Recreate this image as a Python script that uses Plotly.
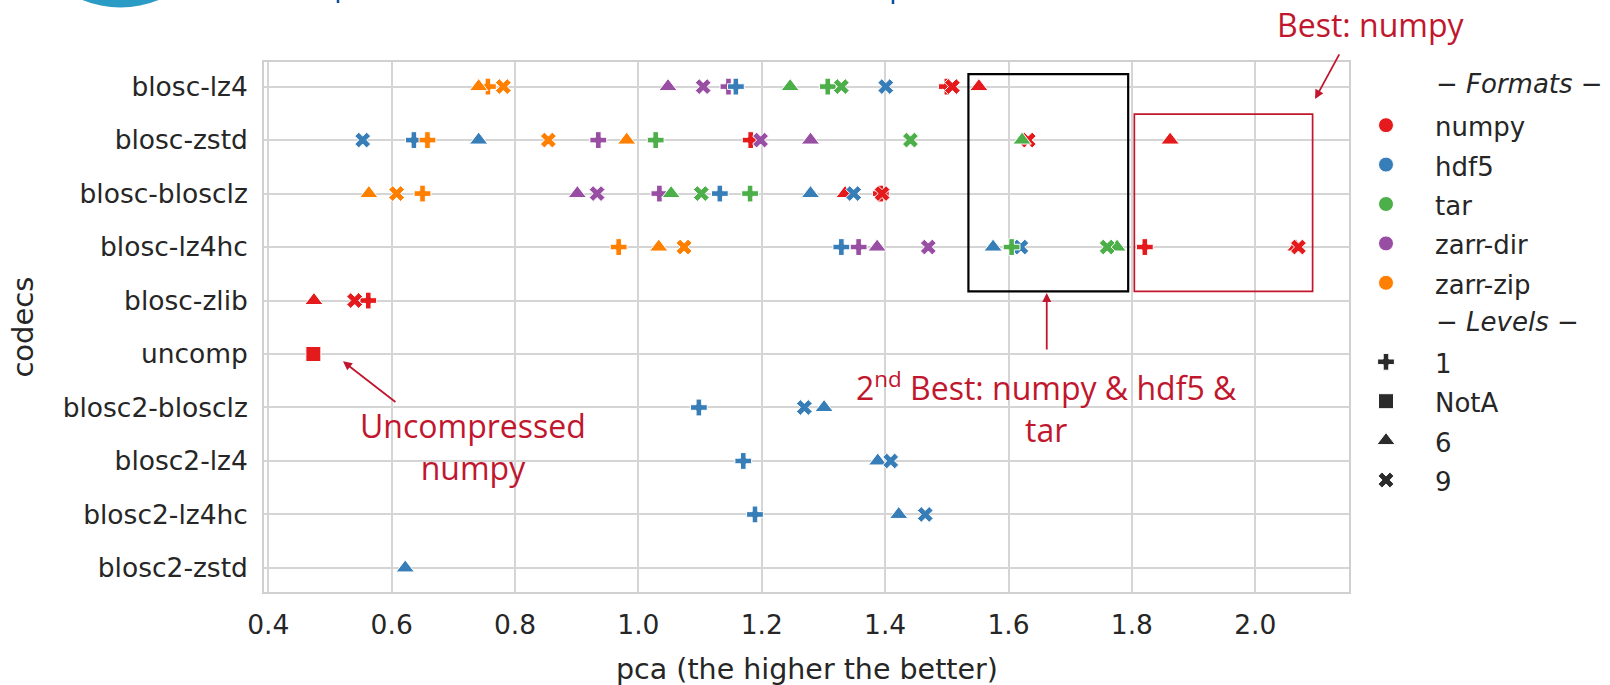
import plotly.graph_objects as go

# ---------------- data ----------------
codecs = ["blosc-lz4", "blosc-zstd", "blosc-blosclz", "blosc-lz4hc", "blosc-zlib",
          "uncomp", "blosc2-blosclz", "blosc2-lz4", "blosc2-lz4hc", "blosc2-zstd"]
formats = ["numpy", "hdf5", "tar", "zarr-dir", "zarr-zip"]
levels = ["1", "NotA", "6", "9"]
x_ticks = [0.4, 0.6, 0.8, 1.0, 1.2, 1.4, 1.6, 1.8, 2.0]

# pca value per codec (same order as `codecs`), None = no measurement
numpy_l1 = [1.500, 1.182, 1.393, 1.821, 0.562, None, None, None, None, None]
numpy_notA = [None, None, None, None, None, 0.473, None, None, None, None]
numpy_l6 = [1.552, 1.862, 1.335, 2.066, 0.474, None, None, None, None, None]
numpy_l9 = [1.509, 1.632, 1.395, 2.070, 0.540, None, None, None, None, None]

hdf5_l1 = [1.158, 0.636, 1.132, 1.329, None, None, 1.098, 1.170, 1.189, None]
hdf5_l6 = [None, 0.741, 1.279, 1.575, None, None, 1.301, 1.388, 1.422, 0.622]
hdf5_l9 = [1.401, 0.553, 1.349, 1.620, None, None, 1.269, 1.409, 1.465, None]

tar_l1 = [1.307, 1.028, 1.181, 1.605, None, None, None, None, None, None]
tar_l6 = [1.246, 1.622, 1.053, 1.776, None, None, None, None, None, None]
tar_l9 = [1.329, 1.441, 1.102, 1.760, None, None, None, None, None, None]

zdir_l1 = [1.146, 0.935, 1.034, 1.357, None, None, None, None, None, None]
zdir_l6 = [1.048, 1.279, 0.901, 1.387, None, None, None, None, None, None]
zdir_l9 = [1.105, 1.198, 0.933, 1.470, None, None, None, None, None, None]

zzip_l1 = [0.756, 0.658, 0.650, 0.968, None, None, None, None, None, None]
zzip_l6 = [0.741, 0.981, 0.563, 1.033, None, None, None, None, None, None]
zzip_l9 = [0.781, 0.854, 0.608, 1.074, None, None, None, None, None, None]

series = {
    "numpy": {"1": numpy_l1, "NotA": numpy_notA, "6": numpy_l6, "9": numpy_l9},
    "hdf5": {"1": hdf5_l1, "6": hdf5_l6, "9": hdf5_l9},
    "tar": {"1": tar_l1, "6": tar_l6, "9": tar_l9},
    "zarr-dir": {"1": zdir_l1, "6": zdir_l6, "9": zdir_l9},
    "zarr-zip": {"1": zzip_l1, "6": zzip_l6, "9": zzip_l9},
}

# ---------------- style ----------------
colors = {"numpy": "#e41a1c", "hdf5": "#377eb8", "tar": "#4daf4a",
          "zarr-dir": "#984ea3", "zarr-zip": "#ff7f00"}
symbols = {"1": "cross", "NotA": "square", "6": "triangle-up", "9": "x"}
sizes = {"1": 14, "NotA": 15, "6": 16, "9": 14}
RED = "#c1172e"
TXT = "#262626"
FONT = "DejaVu Sans"
ANN_FONT = "Open Sans"

W, H = 1610, 685
L, R, T, B = 264, 261, 62, 93

fig = go.Figure()

draw_order = ["numpy", "zarr-dir", "hdf5", "tar", "zarr-zip"]
for fmt in draw_order:
    xs, ys, syms, szs = [], [], [], []
    for lev in levels:
        vals = series[fmt].get(lev)
        if vals is None:
            continue
        for c, v in zip(codecs, vals):
            if v is None:
                continue
            xs.append(v)
            ys.append(c)
            syms.append(symbols[lev])
            szs.append(sizes[lev])
    fig.add_trace(go.Scatter(
        x=xs, y=ys, mode="markers", showlegend=False, name=fmt,
        marker=dict(color=colors[fmt], symbol=syms, size=szs, opacity=1,
                    line=dict(color="white", width=1)),
    ))

# legend entries (group headings are drawn as annotations below)
def lab(t):
    return '<span style="font-size:26px">%s</span>' % t

for fmt in formats:
    fig.add_trace(go.Scatter(
        x=[None], y=[None], mode="markers", name=lab(fmt), legendgroup="formats",
        marker=dict(color=colors[fmt], symbol="circle", size=15, opacity=1,
                    line=dict(color="white", width=1)),
    ))
for lev in levels:
    fig.add_trace(go.Scatter(
        x=[None], y=[None], mode="markers", name=lab(lev), legendgroup="levels",
        marker=dict(color="#2b2b2b", symbol=symbols[lev], size=sizes[lev], opacity=1,
                    line=dict(color="white", width=1)),
    ))

# ---------------- helpers ----------------
def px(xp):
    return (xp - L) / (W - L - R)

def py(yp):
    return (H - B - yp) / (H - T - B)

# ---------------- annotation shapes ----------------
fig.add_shape(type="rect", xref="x", yref="y", x0=1.535, x1=1.794, y0=-0.232, y1=3.83,
              line=dict(color="black", width=2.2))
fig.add_shape(type="rect", xref="x", yref="y", x0=1.804, x1=2.093, y0=0.516, y1=3.83,
              line=dict(color=RED, width=1.7))

# page decoration (cut-off header)
fig.add_shape(type="circle", xref="paper", yref="paper",
              x0=px(20), x1=px(221), y0=py(-193), y1=py(7.5),
              fillcolor="#2a9bc4", line=dict(width=0), layer="above")
fig.add_shape(type="line", xref="paper", yref="paper",
              x0=px(338), x1=px(338), y0=py(0), y1=py(3),
              line=dict(color="#0b4f9c", width=2.5))
fig.add_shape(type="line", xref="paper", yref="paper",
              x0=px(893), x1=px(893), y0=py(0), y1=py(4),
              line=dict(color="#0b4f9c", width=2.5))

ann_font = dict(family=ANN_FONT, size=32, color=RED)
annotations = [
    dict(x=0.521, y=5.135, xref="x", yref="y", text="", showarrow=True,
         ax=54, ay=42, arrowhead=2, arrowsize=1, arrowwidth=1.8, arrowcolor=RED),
    dict(x=2.097, y=0.23, xref="x", yref="y", text="", showarrow=True,
         ax=25, ay=-46, arrowhead=2, arrowsize=1, arrowwidth=1.8, arrowcolor=RED),
    dict(x=1.662, y=3.858, xref="x", yref="y", text="", showarrow=True,
         ax=0, ay=58, arrowhead=2, arrowsize=1, arrowwidth=1.8, arrowcolor=RED),
    dict(x=px(473), y=py(446), xref="paper", yref="paper", showarrow=False,
         text="Uncompressed<br>numpy", xanchor="center", yanchor="middle", font=ann_font),
    dict(x=px(1046), y=py(407), xref="paper", yref="paper", showarrow=False,
         text="2<sup>nd</sup> Best: numpy & hdf5 &<br>tar", xanchor="center", yanchor="middle",
         font=ann_font),
    dict(x=px(1370), y=py(24), xref="paper", yref="paper", showarrow=False,
         text="Best: numpy", xanchor="center", yanchor="middle", font=ann_font),
    # legend group headings
    dict(x=px(1434), y=py(84), xref="paper", yref="paper", showarrow=False,
         text="<i>\u2212 Formats \u2212</i>", xanchor="left", yanchor="middle",
         font=dict(family=FONT, size=26, color=TXT)),
    dict(x=px(1434), y=py(322), xref="paper", yref="paper", showarrow=False,
         text="<i>\u2212 Levels \u2212</i>", xanchor="left", yanchor="middle",
         font=dict(family=FONT, size=26, color=TXT)),
    # axis titles
    dict(x=px(22.6), y=0.5, xref="paper", yref="paper", showarrow=False,
         text="codecs", textangle=-90, xanchor="center", yanchor="middle",
         font=dict(family=FONT, size=29, color=TXT)),
    dict(x=0.5, y=py(669.5), xref="paper", yref="paper", showarrow=False,
         text="pca (the higher the better)", xanchor="center", yanchor="middle",
         font=dict(family=FONT, size=28.5, color=TXT)),
]

fig.update_layout(
    width=W, height=H,
    margin=dict(l=L, r=R, t=T, b=B, pad=0, autoexpand=False),
    paper_bgcolor="white", plot_bgcolor="white",
    font=dict(family=FONT, color=TXT),
    annotations=annotations,
    legend=dict(x=px(1337), xanchor="left", y=py(100.5), yanchor="top",
                font=dict(family=FONT, size=28, color=TXT),
                itemwidth=88, tracegroupgap=39.6, bgcolor="rgba(0,0,0,0)",
                traceorder="grouped", itemclick=False, itemdoubleclick=False),
    showlegend=True,
)
fig.update_xaxes(
    range=[0.393, 2.152], tickvals=x_ticks, ticktext=["%.1f" % v for v in x_ticks],
    showgrid=True, gridcolor="#d5d5d5", gridwidth=1.6, zeroline=False,
    showline=True, mirror=True, linecolor="#d0d0d0", linewidth=1.6,
    ticks="", tickfont=dict(family=FONT, size=26.5, color=TXT), ticklabelstandoff=8,
)
fig.update_yaxes(
    type="category", categoryorder="array", categoryarray=codecs,
    range=[9.45, -0.46],
    showgrid=True, gridcolor="#d5d5d5", gridwidth=1.6, zeroline=False,
    showline=True, mirror=True, linecolor="#d0d0d0", linewidth=1.6,
    ticks="", tickfont=dict(family=FONT, size=26.5, color=TXT), ticklabelstandoff=9,
)

fig.write_html("out.html")
